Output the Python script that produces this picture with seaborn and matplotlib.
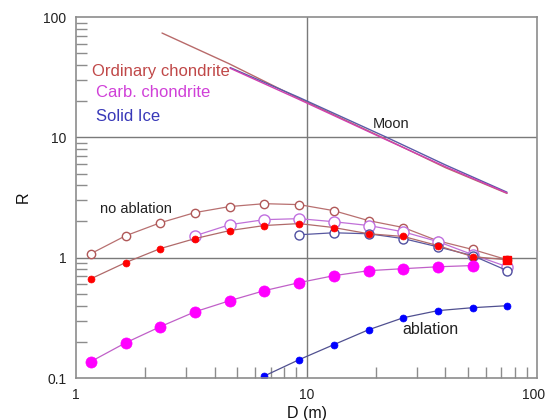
import numpy as np
import pandas as pd
import matplotlib
matplotlib.use("Agg")
import matplotlib.pyplot as plt
import matplotlib.transforms as mtransforms
import seaborn as sns
from matplotlib.ticker import LogLocator, NullFormatter, FixedLocator, FixedFormatter

# ---- data ----
D = [1.16, 1.64, 2.32, 3.28, 4.64, 6.56, 9.28, 13.1, 18.6, 26.3, 37.1, 52.5, 74.2]

ord_noabl = [1.08, 1.52, 1.95, 2.37, 2.66, 2.81, 2.76, 2.46, 2.03, 1.78, 1.38, 1.17, 0.96]
ord_abl = [0.668, 0.91, 1.19, 1.44, 1.68, 1.85, 1.92, 1.78, 1.58, 1.50, 1.26, 1.02, 0.96]

D_carb_noabl = [3.28, 4.64, 6.56, 9.28, 13.1, 18.6, 26.3, 37.1, 52.5, 74.2]
carb_noabl = [1.52, 1.88, 2.07, 2.11, 1.99, 1.85, 1.64, 1.36, 1.06, 0.84]
D_carb_abl = [1.16, 1.64, 2.32, 3.28, 4.64, 6.56, 9.28, 13.1, 18.6, 26.3, 37.1, 52.5]
carb_abl = [0.137, 0.196, 0.267, 0.355, 0.439, 0.532, 0.62, 0.708, 0.78, 0.81, 0.84, 0.86]

D_ice_noabl = [9.28, 13.1, 18.6, 26.3, 37.1, 52.5, 74.2]
ice_noabl = [1.55, 1.61, 1.58, 1.44, 1.23, 1.04, 0.78]
D_ice_abl = [6.56, 9.28, 13.1, 18.6, 26.3, 37.1, 52.5, 74.2]
ice_abl = [0.104, 0.142, 0.189, 0.252, 0.317, 0.363, 0.384, 0.399]

moon_ord_D = [2.36, 4.6, 9.2, 22.0, 40.0, 74.0]
moon_ord_R = [73.6, 41.0, 21.2, 9.7, 5.6, 3.42]
moon_blue_D = [4.66, 9.2, 22.0, 40.0, 74.0]
moon_blue_R = [38.0, 21.6, 10.1, 5.9, 3.5]
moon_mag_D = [4.66, 9.2, 22.0, 40.0, 74.0]
moon_mag_R = [37.5, 20.8, 9.6, 5.7, 3.45]

# ---- style ----
sns.set_style("white")
plt.rcParams['font.family'] = ['Liberation Sans', 'DejaVu Sans']

fig = plt.figure(figsize=(5.47, 4.2), dpi=100)
ax = fig.add_axes([0.139, 0.10, 0.843, 0.8595])

spine_c = "#8c8c8c"

def line(x, y, lc, lw=0.9, **kw):
    sns.lineplot(x=x, y=y, ax=ax, color=lc, linewidth=lw, sort=False, **kw)

# Moon lines
line(moon_ord_D, moon_ord_R, "#b86a6a", lw=1.0)
line(moon_blue_D, moon_blue_R, "#5a5aa8", lw=1.0)
line(moon_mag_D, moon_mag_R, "#d040b0", lw=1.0)

# no ablation
line(D, ord_noabl, "#b87070", marker="o", markersize=6,
     markerfacecolor="white", markeredgecolor="#b05858", markeredgewidth=1.0)
line(D_carb_noabl, carb_noabl, "#c070d8", marker="o", markersize=8,
     markerfacecolor="white", markeredgecolor="#c070e0", markeredgewidth=1.0)
line(D_ice_noabl, ice_noabl, "#5858a0", marker="o", markersize=6.5,
     markerfacecolor="white", markeredgecolor="#5050a0", markeredgewidth=1.0)

# ablation
line(D, ord_abl, "#b06a6a", marker="o", markersize=5,
     markerfacecolor="#ff0000", markeredgecolor="#ff0000", markeredgewidth=0.5)
ax.plot(D[-1:], ord_abl[-1:], marker="s", markersize=6, color="#ff0000",
        linestyle="none", zorder=5)
line(D_carb_abl, carb_abl, "#c060c8", marker="o", markersize=8,
     markerfacecolor="#ff00ff", markeredgecolor="#ff00ff", markeredgewidth=0.5)
line(D_ice_abl, ice_abl, "#505090", marker="o", markersize=5,
     markerfacecolor="#0000ff", markeredgecolor="#0000ff", markeredgewidth=0.5)

ax.set_xscale("log")
ax.set_yscale("log")
ax.set_xlim(1, 100)
ax.set_ylim(0.1, 100)

# grid only at decades
for v in [10]:
    ax.axvline(v, color="#7a7a7a", lw=1.0, zorder=0.5)
for v in [1, 10]:
    ax.axhline(v, color="#7a7a7a", lw=1.0, zorder=0.5)

for s in ax.spines.values():
    s.set_color(spine_c)
    s.set_linewidth(1.2)

ax.xaxis.set_major_locator(FixedLocator([1, 10, 100]))
ax.xaxis.set_major_formatter(FixedFormatter(["1", "10", "100"]))
ax.yaxis.set_major_locator(FixedLocator([0.1, 1, 10, 100]))
ax.yaxis.set_major_formatter(FixedFormatter(["0.1", "1", "10", "100"]))
ax.xaxis.set_minor_locator(LogLocator(base=10, subs=np.arange(2, 10)))
ax.yaxis.set_minor_locator(LogLocator(base=10, subs=np.arange(2, 10)))
ax.xaxis.set_minor_formatter(NullFormatter())
ax.yaxis.set_minor_formatter(NullFormatter())
ax.tick_params(which="major", length=0, labelsize=10, colors="#222222", pad=7)
ax.tick_params(which="minor", direction="in", length=8, width=1.0, color=spine_c,
               bottom=True, left=True, top=False, right=False)

# nudge the last x tick label so it stays inside the figure
fig.canvas.draw()
last = ax.get_xticklabels()[-1]
last.set_transform(last.get_transform() +
                   mtransforms.ScaledTranslation(-4 / 100, 0, fig.dpi_scale_trans))

ax.set_xlabel("D (m)", fontsize=11.5, color="#111111", labelpad=3)
ax.set_ylabel("R", fontsize=11.5, color="#111111", labelpad=9)

# annotations
ax.text(1.17, 35.5, "Ordinary chondrite", color="#c04848", fontsize=12, va="center")
ax.text(1.22, 23.8, "Carb. chondrite", color="#d040d8", fontsize=12, va="center")
ax.text(1.22, 15.0, "Solid Ice", color="#3838b8", fontsize=12, va="center")
ax.text(23.3, 13.0, "Moon", color="#222222", fontsize=10.5, ha="center", va="center")
ax.text(1.27, 2.55, "no ablation", color="#222222", fontsize=10.5, va="center")
ax.text(34.3, 0.252, "ablation", color="#222222", fontsize=11.5, ha="center", va="center")

fig.savefig("out.png", dpi=100, facecolor="white")
